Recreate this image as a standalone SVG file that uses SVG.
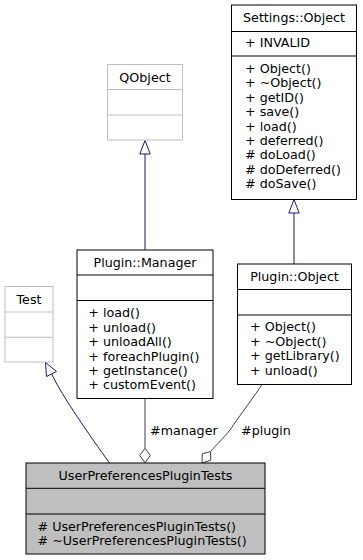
<svg xmlns="http://www.w3.org/2000/svg" width="363" height="560" viewBox="0 0 363 560">
  <style>
    text { font-family: "DejaVu Sans", "Liberation Sans", sans-serif; font-size: 12.7px; fill: #000000; }
    .title { text-anchor: middle; }
    .box { fill: #ffffff; stroke: #000000; stroke-width: 1; }
    .ext { fill: #ffffff; stroke: #bfbfbf; stroke-width: 1; }
    .cur { fill: #bfbfbf; stroke: #000000; stroke-width: 1; }
    .sep { stroke: #000000; stroke-width: 1; }
    .sepx { stroke: #bfbfbf; stroke-width: 1; }
    .inherit { fill: none; stroke: #191970; stroke-width: 1; }
    .inherit-head { fill: #ffffff; stroke: #191970; stroke-width: 1; }
    .assoc { fill: none; stroke: #404040; stroke-width: 1; }
    .assoc-head { fill: #ffffff; stroke: #404040; stroke-width: 1; }
  </style>

  <!-- connectors -->
  <g id="edges">
    <!-- Plugin::Manager -> QObject -->
    <path class="inherit" d="M145,250 L145,154"/>
    <polygon class="inherit-head" points="145,140.5 139.8,154 150.2,154"/>
    <!-- Plugin::Object -> Settings::Object -->
    <path class="inherit" d="M294,264 L294,213"/>
    <polygon class="inherit-head" points="294,199.5 288.8,213 299.2,213"/>
    <!-- UserPreferencesPluginTests -> Test -->
    <path class="inherit" d="M109.5,463 C90,436 62,396 51.7,374"/>
    <polygon class="inherit-head" points="45.5,362.5 46.5,376.5 56.5,371.5"/>
    <!-- manager member -->
    <path class="assoc" d="M145,398.5 L145,448.3"/>
    <polygon class="assoc-head" points="145,462.7 139.7,455.5 145,448.3 150.3,455.5"/>
    <text x="150" y="435">#manager</text>
    <!-- plugin member -->
    <path class="assoc" d="M262,384.5 C256,394 240,415 230,430 C222,440 215,446 210.6,451.5"/>
    <polygon class="assoc-head" points="202,463 202.3,453.8 210.6,451.5 210.7,460.2"/>
    <text x="241" y="435">#plugin</text>
  </g>

  <!-- Settings::Object -->
  <g id="settings-object">
    <rect class="box" x="231.5" y="5" width="125" height="194.5"/>
    <line class="sep" x1="231.5" y1="31.5" x2="356.5" y2="31.5"/>
    <line class="sep" x1="231.5" y1="56" x2="356.5" y2="56"/>
    <text class="title" x="294" y="22">Settings::Object</text>
    <text x="245" y="47">+ INVALID</text>
    <text x="245" y="73">+ Object()</text>
    <text x="245" y="87.4">+ ~Object()</text>
    <text x="245" y="101.8">+ getID()</text>
    <text x="245" y="116.2">+ save()</text>
    <text x="245" y="130.6">+ load()</text>
    <text x="245" y="145">+ deferred()</text>
    <text x="245" y="159.4"># doLoad()</text>
    <text x="245" y="173.8"># doDeferred()</text>
    <text x="245" y="188.2"># doSave()</text>
  </g>

  <!-- QObject -->
  <g id="qobject">
    <rect class="ext" x="107.5" y="64.5" width="75" height="75.5"/>
    <line class="sepx" x1="107.5" y1="89.5" x2="182.5" y2="89.5"/>
    <line class="sepx" x1="107.5" y1="115" x2="182.5" y2="115"/>
    <text class="title" x="145" y="81.5">QObject</text>
  </g>

  <!-- Plugin::Manager -->
  <g id="plugin-manager">
    <rect class="box" x="77" y="250" width="136" height="148.5"/>
    <line class="sep" x1="77" y1="275" x2="213" y2="275"/>
    <line class="sep" x1="77" y1="300.5" x2="213" y2="300.5"/>
    <text class="title" x="145" y="267">Plugin::Manager</text>
    <text x="88.3" y="317.3">+ load()</text>
    <text x="88.3" y="331.7">+ unload()</text>
    <text x="88.3" y="346.1">+ unloadAll()</text>
    <text x="88.3" y="360.5">+ foreachPlugin()</text>
    <text x="88.3" y="374.9">+ getInstance()</text>
    <text x="88.3" y="389.3">+ customEvent()</text>
  </g>

  <!-- Plugin::Object -->
  <g id="plugin-object">
    <rect class="box" x="237.5" y="264" width="114" height="120.5"/>
    <line class="sep" x1="237.5" y1="289.5" x2="351.5" y2="289.5"/>
    <line class="sep" x1="237.5" y1="315" x2="351.5" y2="315"/>
    <text class="title" x="294.5" y="281">Plugin::Object</text>
    <text x="250" y="331.3">+ Object()</text>
    <text x="250" y="345.7">+ ~Object()</text>
    <text x="250" y="360.1">+ getLibrary()</text>
    <text x="250" y="374.5">+ unload()</text>
  </g>

  <!-- Test -->
  <g id="test">
    <rect class="ext" x="5" y="286.5" width="48" height="75.5"/>
    <line class="sepx" x1="5" y1="312" x2="53" y2="312"/>
    <line class="sepx" x1="5" y1="337.3" x2="53" y2="337.3"/>
    <text class="title" x="29" y="303.5">Test</text>
  </g>

  <!-- UserPreferencesPluginTests -->
  <g id="user-preferences-plugin-tests">
    <rect class="cur" x="26" y="463" width="239" height="91"/>
    <line class="sep" x1="26" y1="488.3" x2="265" y2="488.3"/>
    <line class="sep" x1="26" y1="514" x2="265" y2="514"/>
    <text class="title" x="145.5" y="480">UserPreferencesPluginTests</text>
    <text x="37.5" y="531"># UserPreferencesPluginTests()</text>
    <text x="37.5" y="545.4"># ~UserPreferencesPluginTests()</text>
  </g>
</svg>
